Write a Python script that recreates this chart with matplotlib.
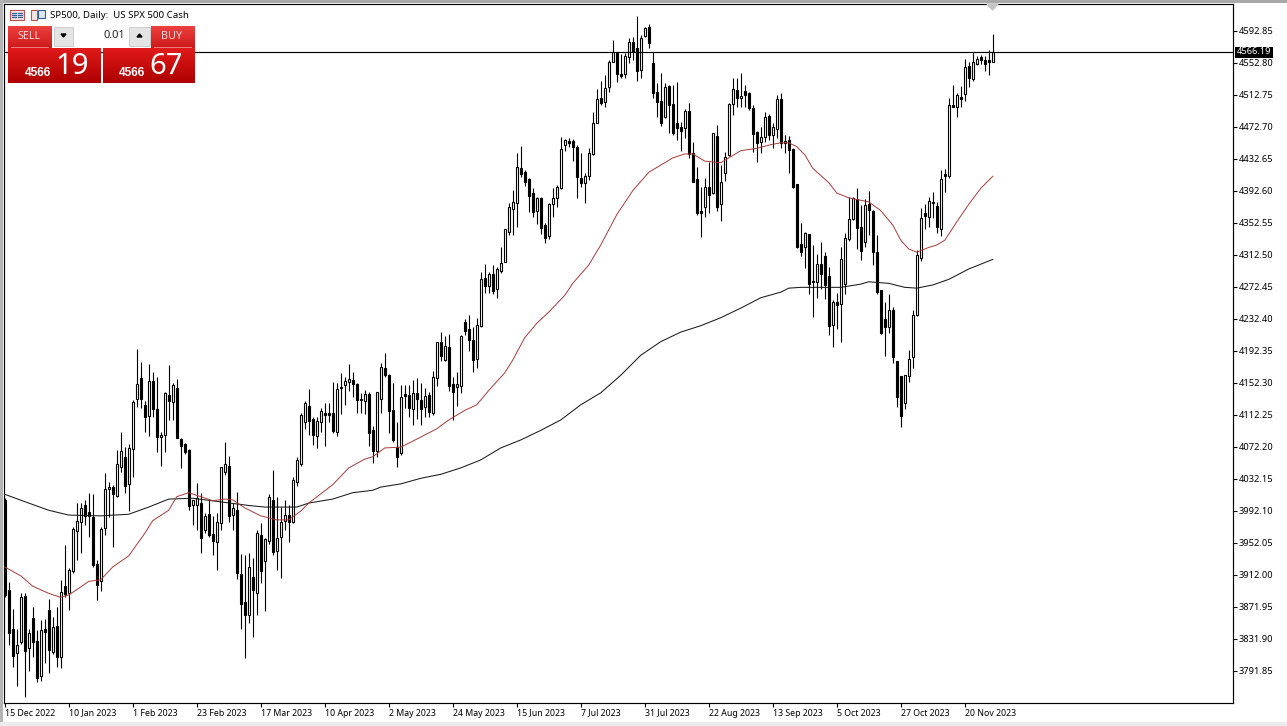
import numpy as np
import matplotlib
matplotlib.use("Agg")
import matplotlib.pyplot as plt
from matplotlib.patches import Rectangle, Polygon

plt.rcParams['font.family'] = ['Noto Sans', 'DejaVu Sans']

# daily candles (10 per line)
opens = [
    4006, 3893, 3844, 3814, 3828, 3886, 3821, 3858, 3829, 3786,
    3844, 3868, 3816, 3848, 3809, 3898, 3889, 3917, 3967, 3978,
    4000, 3991, 3985, 3926, 3904, 3971, 4020, 4022, 4011, 4047,
    4060, 4026, 4070, 4132, 4159, 4125, 4111, 4155, 4120, 4085,
    4087, 4137, 4128, 4146, 4082, 4076, 4068, 4000, 4000, 4002,
    3968, 3988, 3963, 3953, 3977, 4041, 4048, 3987, 3993, 3913,
    3878, 3862, 3909, 3889, 3962, 3930, 3954, 4006, 3942, 3959,
    3980, 3987, 3978, 4028, 4051, 4103, 4123, 4107, 4086, 4103,
    4115, 4115, 4115, 4091, 4147, 4150, 4153, 4156, 4151, 4132,
    4130, 4138, 4093, 4067, 4132, 4171, 4162, 4118, 4072, 4065,
    4138, 4137, 4120, 4140, 4131, 4122, 4137, 4115, 4159, 4204,
    4181, 4197, 4151, 4147, 4148, 4229, 4220, 4206, 4182, 4224,
    4284, 4274, 4289, 4270, 4292, 4304, 4341, 4370, 4378, 4421,
    4416, 4408, 4390, 4368, 4384, 4350, 4336, 4376, 4384, 4396,
    4450, 4455, 4455, 4448, 4409, 4403, 4411, 4439, 4478, 4509,
    4504, 4523, 4554, 4565, 4539, 4539, 4560, 4579, 4572, 4544,
    4587, 4598, 4553, 4516, 4505, 4485, 4524, 4501, 4478, 4473,
    4471, 4493, 4440, 4408, 4367, 4372, 4398, 4390, 4461, 4376,
    4415, 4438, 4501, 4519, 4509, 4518, 4515, 4496, 4466, 4454,
    4460, 4486, 4463, 4470, 4508, 4453, 4456, 4445, 4401, 4326,
    4322, 4339, 4280, 4279, 4301, 4311, 4286, 4225, 4254, 4251,
    4276, 4332, 4357, 4383, 4347, 4329, 4376, 4368, 4316, 4269,
    4232, 4222, 4244, 4180, 4161, 4127, 4161, 4185, 4237, 4309,
    4365, 4360, 4379, 4374, 4345, 4414, 4411, 4500, 4498, 4510,
    4514, 4549, 4533, 4552, 4560, 4556, 4556, 4554,
]
highs = [
    4008, 3903, 3869, 3844, 3889, 3889, 3844, 3872, 3843, 3856,
    3857, 3882, 3859, 3872, 3906, 3949, 3921, 3972, 4002, 4002,
    4006, 4015, 4013, 3931, 3972, 4040, 4028, 4025, 4068, 4091,
    4072, 4076, 4131, 4195, 4179, 4130, 4176, 4166, 4160, 4091,
    4141, 4175, 4152, 4157, 4083, 4077, 4070, 4006, 4027, 4015,
    3990, 4006, 3986, 3990, 4047, 4078, 4061, 4002, 4016, 3938,
    3937, 3939, 3933, 3968, 3977, 3958, 4013, 4043, 4010, 3997,
    4006, 4000, 4035, 4060, 4115, 4130, 4145, 4110, 4110, 4121,
    4127, 4127, 4153, 4152, 4165, 4160, 4176, 4166, 4152, 4140,
    4143, 4141, 4098, 4141, 4177, 4190, 4163, 4152, 4103, 4150,
    4150, 4150, 4156, 4159, 4152, 4146, 4141, 4167, 4204, 4216,
    4211, 4213, 4160, 4166, 4212, 4232, 4237, 4222, 4234, 4291,
    4301, 4291, 4300, 4297, 4322, 4345, 4378, 4394, 4440, 4449,
    4419, 4409, 4396, 4385, 4385, 4352, 4378, 4396, 4400, 4460,
    4458, 4459, 4458, 4450, 4440, 4415, 4446, 4491, 4520, 4530,
    4538, 4557, 4582, 4566, 4564, 4565, 4584, 4585, 4612, 4588,
    4598, 4602, 4566, 4528, 4540, 4528, 4525, 4525, 4529, 4479,
    4495, 4503, 4454, 4423, 4398, 4409, 4429, 4465, 4475, 4425,
    4441, 4503, 4534, 4534, 4540, 4525, 4516, 4500, 4468, 4473,
    4491, 4489, 4478, 4513, 4515, 4463, 4461, 4446, 4401, 4352,
    4341, 4339, 4325, 4314, 4329, 4316, 4297, 4256, 4265, 4322,
    4340, 4385, 4385, 4396, 4375, 4383, 4393, 4369, 4337, 4269,
    4254, 4264, 4247, 4180, 4161, 4162, 4193, 4244, 4319, 4371,
    4376, 4385, 4391, 4379, 4419, 4420, 4509, 4525, 4515, 4524,
    4558, 4554, 4566, 4562, 4563, 4562, 4569, 4589,
]
lows = [
    3885, 3824, 3797, 3773, 3826, 3759, 3792, 3809, 3778, 3779,
    3802, 3789, 3813, 3797, 3796, 3884, 3868, 3914, 3931, 3939,
    3974, 3959, 3922, 3881, 3892, 3962, 3985, 3947, 4010, 4041,
    4015, 3992, 4035, 4122, 4121, 4091, 4086, 4110, 4066, 4048,
    4066, 4106, 4106, 4083, 4046, 4063, 3993, 3974, 3968, 3939,
    3964, 3959, 3937, 3918, 3968, 4037, 3978, 3968, 3907, 3844,
    3808, 3852, 3834, 3862, 3902, 3867, 3951, 3937, 3918, 3908,
    3968, 3953, 3977, 4023, 4048, 4095, 4087, 4075, 4071, 4091,
    4073, 4103, 4090, 4086, 4113, 4125, 4142, 4135, 4115, 4115,
    4113, 4073, 4052, 4060, 4115, 4160, 4090, 4078, 4047, 4062,
    4121, 4110, 4100, 4107, 4100, 4110, 4110, 4112, 4148, 4180,
    4180, 4142, 4106, 4123, 4140, 4212, 4192, 4166, 4171, 4222,
    4265, 4265, 4264, 4259, 4290, 4304, 4337, 4337, 4347, 4410,
    4399, 4366, 4360, 4351, 4339, 4327, 4332, 4360, 4373, 4395,
    4443, 4448, 4430, 4384, 4398, 4378, 4406, 4438, 4478, 4500,
    4498, 4516, 4554, 4529, 4534, 4534, 4553, 4557, 4530, 4534,
    4585, 4572, 4509, 4485, 4474, 4484, 4465, 4463, 4456, 4443,
    4459, 4434, 4404, 4362, 4335, 4360, 4365, 4389, 4367, 4355,
    4405, 4436, 4488, 4498, 4498, 4498, 4494, 4441, 4429, 4440,
    4454, 4456, 4446, 4459, 4446, 4440, 4415, 4396, 4321, 4311,
    4296, 4264, 4235, 4259, 4270, 4257, 4212, 4197, 4220, 4204,
    4264, 4330, 4356, 4320, 4306, 4322, 4337, 4300, 4264, 4214,
    4186, 4215, 4177, 4122, 4097, 4120, 4153, 4171, 4236, 4305,
    4345, 4347, 4359, 4340, 4336, 4391, 4409, 4498, 4485, 4498,
    4505, 4523, 4530, 4550, 4551, 4543, 4538, 4554,
]
closes = [
    3887, 3839, 3811, 3824, 3884, 3817, 3839, 3828, 3783, 3843,
    3841, 3818, 3847, 3809, 3891, 3888, 3918, 3969, 3980, 3996,
    3986, 3986, 3924, 3899, 3969, 4020, 4022, 4013, 4051, 4067,
    4023, 4071, 4128, 4151, 4132, 4110, 4155, 4120, 4085, 4087,
    4140, 4130, 4150, 4083, 4073, 4066, 3998, 4006, 4008, 3958,
    3986, 3962, 3954, 3978, 4047, 4051, 3986, 3996, 3914, 3876,
    3862, 3922, 3893, 3964, 3917, 3957, 4010, 3941, 3958, 3978,
    3987, 3978, 4031, 4056, 4112, 4127, 4105, 4087, 4105, 4117,
    4112, 4112, 4092, 4145, 4146, 4155, 4157, 4151, 4131, 4131,
    4138, 4090, 4067, 4141, 4172, 4162, 4117, 4081, 4060, 4135,
    4136, 4121, 4140, 4132, 4120, 4136, 4116, 4160, 4204, 4186,
    4199, 4148, 4141, 4151, 4211, 4217, 4206, 4181, 4225, 4282,
    4274, 4289, 4267, 4295, 4302, 4345, 4373, 4379, 4423, 4414,
    4404, 4386, 4366, 4384, 4346, 4334, 4376, 4384, 4398, 4445,
    4456, 4453, 4448, 4410, 4403, 4411, 4440, 4478, 4508, 4503,
    4521, 4554, 4566, 4539, 4536, 4562, 4579, 4568, 4543, 4584,
    4597, 4578, 4515, 4504, 4478, 4523, 4500, 4465, 4471, 4468,
    4493, 4439, 4404, 4365, 4365, 4398, 4388, 4465, 4373, 4404,
    4435, 4501, 4520, 4509, 4511, 4513, 4496, 4464, 4453, 4460,
    4485, 4463, 4473, 4508, 4453, 4455, 4444, 4398, 4322, 4316,
    4340, 4276, 4279, 4301, 4289, 4275, 4224, 4254, 4250, 4307,
    4334, 4357, 4384, 4346, 4317, 4375, 4369, 4316, 4266, 4215,
    4222, 4244, 4185, 4135, 4111, 4162, 4182, 4237, 4312, 4359,
    4361, 4380, 4377, 4347, 4408, 4411, 4500, 4498, 4513, 4508,
    4548, 4534, 4554, 4558, 4556, 4551, 4554, 4566.19,
]

# moving averages, read at some bars
slow_bars = [0, 6, 11, 16, 24, 31, 36, 41, 47, 61, 65, 73, 76, 82, 87, 92, 94, 99,
             104, 109, 114, 119, 124, 129, 134, 139, 144, 149, 154, 159, 164, 169,
             174, 179, 184, 189, 194, 196, 199, 209, 214, 216, 221, 225, 228, 232,
             236, 241, 247]
slow_ma = [4013, 4002, 3993, 3987, 3986, 3988, 3997, 4007, 4008, 3999, 3997, 3997,
           4002, 4007, 4015, 4018, 4022, 4026, 4033, 4038, 4046, 4056, 4071, 4081,
           4093, 4106, 4125, 4140, 4162, 4187, 4204, 4216, 4224, 4234, 4246, 4259,
           4266, 4271, 4272, 4272, 4276, 4279, 4277, 4272, 4271, 4275, 4282, 4295, 4307]
fast_bars = [0, 4, 7, 11, 14, 16, 19, 21, 24, 27, 31, 35, 37, 41, 43, 46, 49, 52, 55,
             57, 60, 64, 68, 71, 74, 76, 82, 86, 90, 92, 95, 99, 103, 108, 111, 115,
             118, 121, 125, 127, 130, 133, 136, 140, 142, 146, 149, 153, 157, 161,
             164, 167, 170, 172, 175, 179, 181, 184, 188, 191, 194, 196, 198, 200,
             202, 206, 208, 211, 214, 216, 219, 222, 224, 226, 228, 231, 233, 235,
             238, 241, 244, 247]
fast_ma = [3922, 3911, 3898, 3889, 3884, 3887, 3897, 3904, 3906, 3922, 3936, 3964,
           3980, 3993, 4010, 4015, 4010, 4005, 4007, 4006, 3996, 3986, 3981, 3981,
           3992, 4002, 4025, 4046, 4057, 4060, 4071, 4072, 4082, 4095, 4106, 4118,
           4125, 4143, 4165, 4181, 4209, 4227, 4241, 4262, 4277, 4300, 4325, 4363,
           4393, 4416, 4425, 4434, 4439, 4439, 4430, 4428, 4434, 4443, 4446, 4450,
           4453, 4453, 4448, 4438, 4421, 4403, 4390, 4384, 4381, 4379, 4368, 4350,
           4331, 4320, 4316, 4322, 4325, 4331, 4354, 4376, 4396, 4411]

price_ticks = ["4592.85", "4552.80", "4512.75", "4472.70", "4432.65", "4392.60", "4352.55",
               "4312.50", "4272.45", "4232.40", "4192.35", "4152.30", "4112.25", "4072.20",
               "4032.15", "3992.10", "3952.05", "3912.00", "3871.95", "3831.90", "3791.85"]
date_ticks = ["15 Dec 2022", "10 Jan 2023", "1 Feb 2023", "23 Feb 2023", "17 Mar 2023",
              "10 Apr 2023", "2 May 2023", "24 May 2023", "15 Jun 2023", "7 Jul 2023",
              "31 Jul 2023", "22 Aug 2023", "13 Sep 2023", "5 Oct 2023", "27 Oct 2023",
              "20 Nov 2023"]
last_price = 4566.19

W, H = 1287, 726
fig = plt.figure(figsize=(W / 100, H / 100), dpi=100, facecolor='white')
ax = fig.add_axes([4 / W, (H - 703) / H, 1229 / W, 699 / H])

bars = np.arange(len(closes))
o = np.array(opens)
c = np.array(closes)
ax.vlines(bars, lows, highs, color='black', lw=0.8, zorder=2)
body_colors = ['white' if b >= a else 'black' for a, b in zip(o, c)]
ax.bar(bars, np.abs(c - o), bottom=np.minimum(o, c), width=0.5, color=body_colors,
       edgecolor='black', linewidth=0.8, zorder=3)

ax.plot(slow_bars, slow_ma, color='#1a1a1a', lw=0.75, zorder=4)
ax.plot(fast_bars, fast_ma, color='#a83a3a', lw=0.7, zorder=4)
ax.axhline(last_price, color='black', lw=0.85, zorder=5)

ax.set_xlim(-0.175, 307.05)
ax.set_ylim(3751.77, 4626.64)
ax.set_xticks(bars[::16])
ax.set_xticklabels(date_ticks, ha='left', fontsize=6.3)
ax.set_yticks([float(t) for t in price_ticks])
ax.set_yticklabels(price_ticks, fontsize=6.7)
ax.yaxis.tick_right()
ax.tick_params(axis='x', length=3, width=0.8, pad=1)
ax.tick_params(axis='y', length=3, width=0.8, pad=1)
for spine in ax.spines.values():
    spine.set_linewidth(0.85)

# everything around the chart, in screen pixels
ui = fig.add_axes([0, 0, 1, 1], zorder=10)
ui.set_xlim(0, W)
ui.set_ylim(H, 0)
ui.axis('off')
ui.patch.set_alpha(0)


def box(x, y, w, h, color, edge='none', lw=0):
    ui.add_patch(Rectangle((x, y), w, h, facecolor=color, edgecolor=edge, linewidth=lw))


def red_box(x, y, w, h, top, bottom):
    grad = np.linspace(0, 1, 32)[:, None, None]
    rgb = (1 - grad) * np.array(top) + grad * np.array(bottom)
    ui.imshow(rgb, extent=(x, x + w, y + h, y), aspect='auto', interpolation='bilinear')


box(0, 0, W, 3, '#a9a9a9')
box(0, 0, 3, H, '#b4b4b4')
box(0, 722, W, 4, '#ececec')

# tiny chart icons in the header
box(9.5, 10, 14, 10, '#f4e6e6', '#c0504d', 0.8)
ui.plot([12, 16], [13, 13], color='#2f5f9e', lw=0.9)
ui.plot([12, 16], [15, 15], color='#2f5f9e', lw=0.9)
ui.plot([12, 16], [17, 17], color='#2f5f9e', lw=0.9)
ui.plot([18, 22], [13, 13], color='#2f5f9e', lw=0.9)
ui.plot([18, 22], [15, 15], color='#2f5f9e', lw=0.9)
ui.plot([18, 22], [17, 17], color='#2f5f9e', lw=0.9)
box(30.5, 10, 6, 10, '#f4e6e6', '#c0504d', 0.8)
box(37.5, 10, 7, 8, '#dfe8f4', '#2f5f9e', 0.8)
ui.text(50, 15.5, "SP500, Daily:  US SPX 500 Cash", fontsize=6.95, va='center', color='black')

# one-click trading panel
red_box(8, 26, 44, 22, (0.93, 0.25, 0.25), (0.80, 0.10, 0.10))
red_box(151, 26, 44, 22, (0.93, 0.25, 0.25), (0.80, 0.10, 0.10))
red_box(8, 48, 93, 35, (0.88, 0.10, 0.10), (0.68, 0.0, 0.0))
red_box(103, 48, 92, 35, (0.88, 0.10, 0.10), (0.68, 0.0, 0.0))
box(52, 26, 99, 22, 'white')
box(54, 27, 19, 19, '#e4e4e4', '#c8c8c8', 0.6)
box(129, 27, 21, 19, '#e4e4e4', '#c8c8c8', 0.6)
ui.add_patch(Polygon([(61, 34), (66, 34), (63.5, 37)], color='black'))
ui.add_patch(Polygon([(137, 37), (142, 37), (139.5, 34)], color='black'))
ui.text(125, 36, "0.01", fontsize=8, ha='right', va='center', color='#222222')
ui.plot([11, 48], [47, 47], color='#f08080', lw=0.7)
ui.plot([154, 191], [47, 47], color='#f08080', lw=0.7)
ui.text(29, 36.5, "SELL", fontsize=7.8, ha='center', va='center', color='#ffd8d8')
ui.text(172, 36.5, "BUY", fontsize=7.8, ha='center', va='center', color='#ffd8d8')
ui.text(51, 72.5, "4566", fontsize=8.6, fontweight='bold', family='Liberation Sans',
        ha='right', va='center', color='white')
ui.text(55, 66, "19", fontsize=21, ha='left', va='center', color='white')
ui.text(145, 72.5, "4566", fontsize=8.6, fontweight='bold', family='Liberation Sans',
        ha='right', va='center', color='white')
ui.text(149, 66, "67", fontsize=21, ha='left', va='center', color='white')

# last price tag and the shift marker
box(1235, 46.5, 38, 11, 'black')
ui.text(1254, 52, "4566.19", fontsize=6.7, ha='center', va='center', color='white')
ui.add_patch(Polygon([(987, 4), (998, 4), (992.5, 10)], color='#c4c4c4'))

ui.set_xlim(0, W)
ui.set_ylim(H, 0)
ui.set_aspect('auto')

assert len(opens) == len(highs) == len(lows) == len(closes) == 248
assert len(slow_bars) == len(slow_ma) and len(fast_bars) == len(fast_ma)
fig.savefig('out.png', dpi=100, facecolor='white')
